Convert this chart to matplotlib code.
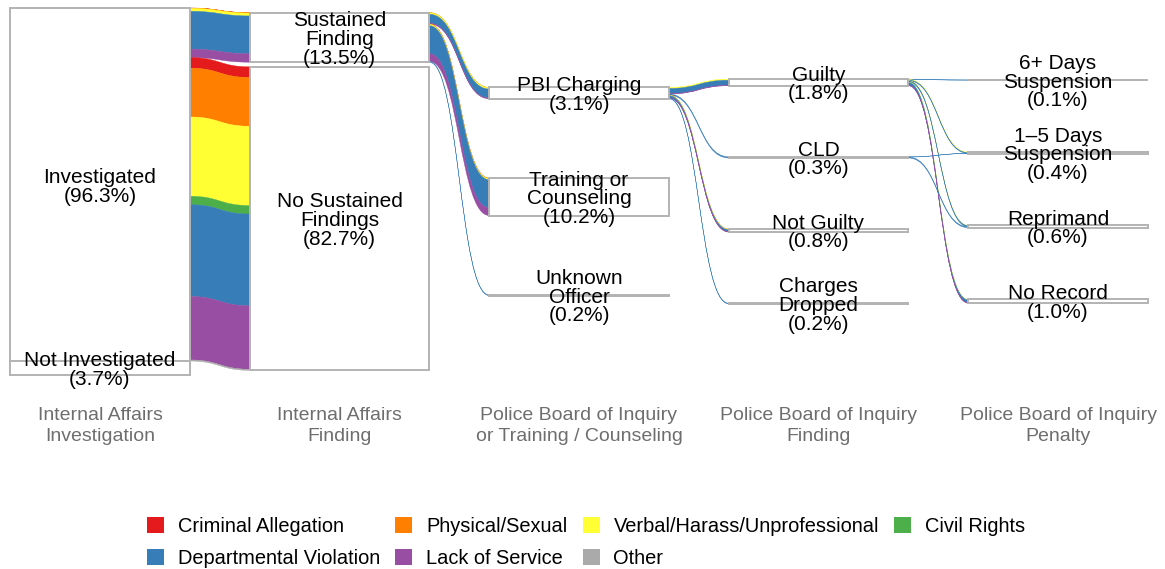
import matplotlib
matplotlib.use("Agg")
import matplotlib.pyplot as plt
from matplotlib.path import Path
from matplotlib.patches import PathPatch, Rectangle, Patch

plt.rcParams['font.family'] = ['Liberation Sans', 'DejaVu Sans']

# ---------------- data ----------------
categories = ["Criminal Allegation", "Physical/Sexual", "Verbal/Harass/Unprofessional",
              "Civil Rights", "Departmental Violation", "Lack of Service", "Other"]
category_colors = ["#E41A1C", "#FF7F00", "#FFFF33", "#4DAF4A", "#377EB8", "#984EA3", "#AAAAAA"]

axis_titles = ["Internal Affairs\nInvestigation", "Internal Affairs\nFinding",
               "Police Board of Inquiry\nor Training / Counseling",
               "Police Board of Inquiry\nFinding", "Police Board of Inquiry\nPenalty"]

col1_strata = ["Investigated", "Not Investigated"]
col1_pct = [96.3, 3.7]
col2_strata = ["Sustained\nFinding", "No Sustained\nFindings"]
col2_pct = [13.5, 82.7]
col3_strata = ["PBI Charging", "Training or\nCounseling", "Unknown\nOfficer"]
col3_pct = [3.1, 10.2, 0.2]
col4_strata = ["Guilty", "CLD", "Not Guilty", "Charges\nDropped"]
col4_pct = [1.8, 0.3, 0.8, 0.2]
col5_strata = ["6+ Days\nSuspension", "1\u20135 Days\nSuspension", "Reprimand", "No Record"]
col5_pct = [0.1, 0.4, 0.6, 1.0]

# flows between adjacent columns: (source stratum, target stratum) -> % per category
flows_1_2 = {
    (0, 0): [0.05, 0.05, 0.8, 0.0, 10.3, 2.3, 0.0],
    (0, 1): [2.9, 13.3, 21.6, 2.3, 25.0, 17.3, 0.3],
}
flows_2_3 = {
    (0, 0): [0.0, 0.05, 0.4, 0.0, 2.45, 0.2, 0.0],
    (0, 1): [0.05, 0.0, 0.4, 0.0, 7.65, 2.1, 0.0],
    (0, 2): [0.0, 0.0, 0.0, 0.0, 0.2, 0.0, 0.0],
}
flows_3_4 = {
    (0, 0): [0.0, 0.0, 0.3, 0.0, 1.4, 0.1, 0.0],
    (0, 1): [0.0, 0.0, 0.0, 0.0, 0.3, 0.0, 0.0],
    (0, 2): [0.0, 0.05, 0.1, 0.0, 0.55, 0.1, 0.0],
    (0, 3): [0.0, 0.0, 0.0, 0.0, 0.2, 0.0, 0.0],
}
flows_4_5 = {
    (0, 0): [0.0, 0.0, 0.0, 0.0, 0.1, 0.0, 0.0],
    (0, 1): [0.0, 0.0, 0.15, 0.0, 0.2, 0.0, 0.0],
    (0, 2): [0.0, 0.0, 0.05, 0.0, 0.3, 0.0, 0.0],
    (0, 3): [0.0, 0.0, 0.1, 0.0, 0.8, 0.1, 0.0],
    (1, 1): [0.0, 0.0, 0.0, 0.0, 0.05, 0.0, 0.0],
    (1, 2): [0.0, 0.0, 0.0, 0.0, 0.25, 0.0, 0.0],
}

columns = [(col1_strata, col1_pct), (col2_strata, col2_pct), (col3_strata, col3_pct),
           (col4_strata, col4_pct), (col5_strata, col5_pct)]
transitions = [flows_1_2, flows_2_3, flows_3_4, flows_4_5]

# ---------------- figure / scales ----------------
W, H = 1165, 569
fig = plt.figure(figsize=(W / 100, H / 100), dpi=100)
ax = fig.add_axes([0, 0, 1, 1])
ax.set_axis_off()

px_per_col = 239.5
x_first_px = 100
y_top_px, y_bot_px = 8, 375
px_per_pct = (y_bot_px - y_top_px) / 100.0
ax.set_xlim(1 - x_first_px / px_per_col, 1 + (W - x_first_px) / px_per_col)
ax.set_ylim((H - y_top_px) / px_per_pct, -y_top_px / px_per_pct)


def ypx(p):
    return (p - y_top_px) / px_per_pct


half_w = 0.375
label_nudge = 2 / px_per_pct


def layout(pcts):
    g = (100.0 - sum(pcts)) / (len(pcts) + 1)
    tops, y = [], g
    for p in pcts:
        tops.append(y)
        y += p + g
    return tops


tops = [layout(p) for _, p in columns]

# ---------------- flows ----------------
k = 0.5
for ci, flows in enumerate(transitions):
    xa = (ci + 1) + half_w
    xb = (ci + 2) - half_w
    dx = xb - xa
    out_off = {s: tops[ci][s] for s in range(len(columns[ci][1]))}
    in_off = {t: tops[ci + 1][t] for t in range(len(columns[ci + 1][1]))}
    src_pos = {}
    for (s, t) in sorted(flows.keys(), key=lambda st: (st[0], st[1])):
        for c, v in enumerate(flows[(s, t)]):
            src_pos[(s, t, c)] = out_off[s]
            out_off[s] += v
    dst_pos = {}
    for (s, t) in sorted(flows.keys(), key=lambda st: (st[1], st[0])):
        for c, v in enumerate(flows[(s, t)]):
            dst_pos[(s, t, c)] = in_off[t]
            in_off[t] += v
    for (s, t), vals in flows.items():
        for c, v in enumerate(vals):
            if v <= 0:
                continue
            y0 = src_pos[(s, t, c)]
            y1 = dst_pos[(s, t, c)]
            verts = [(xa, y0), (xa + k * dx, y0), (xb - k * dx, y1), (xb, y1),
                     (xb, y1 + v),
                     (xb - k * dx, y1 + v), (xa + k * dx, y0 + v), (xa, y0 + v),
                     (xa, y0)]
            codes = [Path.MOVETO, Path.CURVE4, Path.CURVE4, Path.CURVE4,
                     Path.LINETO,
                     Path.CURVE4, Path.CURVE4, Path.CURVE4,
                     Path.CLOSEPOLY]
            ax.add_patch(PathPatch(Path(verts, codes), facecolor=category_colors[c],
                                   edgecolor=category_colors[c], lw=0.3, zorder=1))

# ---------------- strata ----------------
for ci, (names, pcts) in enumerate(columns):
    x = ci + 1
    for name, p, top in zip(names, pcts, tops[ci]):
        ax.add_patch(Rectangle((x - half_w, top), 2 * half_w, p, facecolor="white",
                               edgecolor="#B3B3B3", lw=1.4, zorder=2))
        ax.text(x, top + p / 2 + label_nudge, f"{name}\n({p:.1f}%)", ha="center",
                va="center", fontsize=15, linespacing=0.98, color="black", zorder=3)

# ---------------- axis titles ----------------
for ci, title in enumerate(axis_titles):
    ax.text(ci + 1, ypx(426), title, ha="center", va="center", fontsize=14,
            color="#6E6E6E", linespacing=1.3)

# ---------------- legend ----------------
order = [0, 4, 1, 5, 2, 6, 3]
handles = [Patch(facecolor=category_colors[i], edgecolor="none") for i in order]
labels = [categories[i] for i in order]
fig.legend(handles, labels, ncol=4, loc="upper left",
           bbox_to_anchor=(147 / W, 1 - 517 / H), bbox_transform=fig.transFigure,
           frameon=False, fontsize=14.4, handlelength=0.85, handleheight=0.85,
           handletextpad=0.7, columnspacing=0.75, labelspacing=0.65,
           borderpad=0, borderaxespad=0)

fig.savefig("out.png", dpi=100)
